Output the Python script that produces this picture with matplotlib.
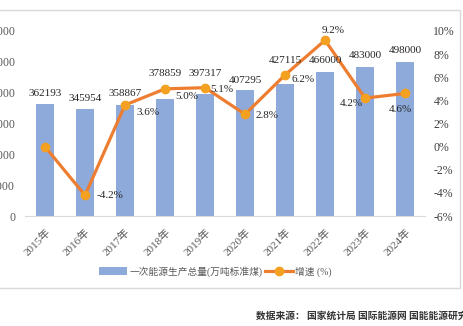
import matplotlib
matplotlib.use('Agg')
import matplotlib.pyplot as plt
import matplotlib.transforms as mtransforms
from matplotlib.patches import Rectangle

plt.rcParams['font.family'] = ['Liberation Serif', 'Noto Sans CJK SC', 'DejaVu Sans']

years = ['2015年', '2016年', '2017年', '2018年', '2019年', '2020年', '2021年', '2022年', '2023年', '2024年']
output = [362193, 345954, 358867, 378859, 397317, 407295, 427115, 466000, 483000, 498000]
growth = [0.0, -4.2, 3.6, 5.0, 5.1, 2.8, 6.2, 9.2, 4.2, 4.6]
growth_labels = ['', '-4.2%', '3.6%', '5.0%', '5.1%', '2.8%', '6.2%', '9.2%', '4.2%', '4.6%']
# label offsets in pixels (dx, dy), as placed by hand in the original
bar_label_dy = [11, 11, 12, 26, 20, 10, 24, 12, 12, 12]
growth_offsets = [(0, 0), (25, 0), (23, -7), (22, -8), (17, -2), (22, -1), (18, -5), (8, 10), (-14, -5), (-5, -16)]

bar_color = '#8eaadb'
line_color = '#ed7d31'
marker_color = '#f4a020'
tick_color = '#595959'
px = 0.72  # points per pixel at dpi 100

fig = plt.figure(figsize=(4.63, 3.26), dpi=100)
ax = fig.add_axes([0.054, 0.337, 0.864, 0.568])
x = list(range(len(years)))
ax.bar(x, output, width=0.47, color=bar_color, zorder=1, label='一次能源生产总量(万吨标准煤)')
ax.set_ylim(0, 600000)
ax.set_yticks(range(0, 600001, 100000))
ax.set_xlim(-0.5, len(years) - 0.5)
ax.set_xticks(x)
ax.set_xticklabels(years, rotation=45, ha='right', rotation_mode='anchor', fontsize=8, color=tick_color)
shift = mtransforms.ScaledTranslation(-5 / 100, 0, fig.dpi_scale_trans)
for lab in ax.get_xticklabels():
    lab.set_transform(lab.get_transform() + shift)
ax.tick_params(axis='y', labelsize=8.5, colors=tick_color, length=0, pad=7)
ax.tick_params(axis='x', length=0, pad=8)
for s in ['top', 'right', 'left']:
    ax.spines[s].set_visible(False)
ax.spines['bottom'].set_color('#d9d9d9')

ax2 = ax.twinx()
ax2.plot(x, growth, color=line_color, lw=2.3, marker='o', ms=6, mfc=marker_color, mec=marker_color,
         zorder=3, label='增速 (%)')
ax2.set_ylim(-6, 10)
ax2.set_yticks(range(-6, 11, 2))
ax2.set_yticklabels([f'{t}%' for t in range(-6, 11, 2)])
ax2.tick_params(axis='y', labelsize=8.5, colors='#404040', length=0, pad=6)
for s in ['top', 'right', 'left', 'bottom']:
    ax2.spines[s].set_visible(False)

for xi, v, dy in zip(x, output, bar_label_dy):
    ax2.annotate(str(v), (xi, v * 16 / 600000 - 6), xytext=(0, dy * px), textcoords='offset points',
                 ha='center', va='center', fontsize=8, color='#262626', zorder=5)

for xi, v, lab, off in zip(x, growth, growth_labels, growth_offsets):
    if lab:
        ax2.annotate(lab, (xi, v), xytext=(off[0] * px, off[1] * px), textcoords='offset points',
                     ha='center', va='center', fontsize=8, color='#262626', zorder=5)

h1, l1 = ax.get_legend_handles_labels()
h2, l2 = ax2.get_legend_handles_labels()
fig.legend(h1 + h2, l1 + l2, loc='center', bbox_to_anchor=(0.465, 0.168), ncol=2, frameon=False,
           fontsize=7, handlelength=2.9, handleheight=0.9, columnspacing=0.3, handletextpad=0.2,
           labelcolor=tick_color)

fig.patches.append(Rectangle((-0.05, 0.117), 1.043, 0.852, transform=fig.transFigure,
                             fill=False, edgecolor='#d9d9d9', lw=1))

fig.text(0.553, 0.03, '数据来源： 国家统计局 国际能源网 国能能源研究院', fontsize=7, fontweight='bold',
         family=['Noto Sans CJK SC'], color='#333333', ha='left', va='center')

fig.savefig('out.png', dpi=100)
